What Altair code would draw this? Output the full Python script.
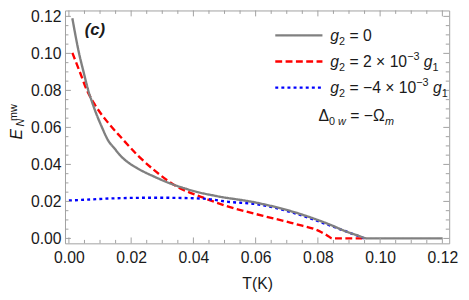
import altair as alt
import pandas as pd

# ---------------- data ----------------
series_names = ["g2 = 0", "g2 = 2e-3 g1", "g2 = -4e-3 g1"]

T_g0 = [0.0011, 0.0032, 0.0047, 0.0063, 0.0074, 0.0090, 0.0105, 0.0126, 0.0147,
        0.0168, 0.0195, 0.0221, 0.0274, 0.0337, 0.0379, 0.0410, 0.0474, 0.0600,
        0.0726, 0.0832, 0.0895, 0.0930, 0.0958, 0.1200]
E_g0 = [0.1190, 0.1005, 0.0900, 0.0795, 0.0739, 0.0665, 0.0605, 0.0530, 0.0485,
        0.0443, 0.0405, 0.0378, 0.0334, 0.0290, 0.0267, 0.0252, 0.0229, 0.0194,
        0.0141, 0.0079, 0.0035, 0.0015, 0.0000, 0.0000]

T_gp = [0.0011, 0.0035, 0.0058, 0.0084, 0.0126, 0.0168, 0.0221, 0.0274, 0.0337,
        0.0432, 0.0505, 0.0621, 0.0726, 0.0810, 0.0830, 0.0847, 0.0955]
E_gp = [0.1003, 0.0900, 0.0800, 0.0721, 0.0625, 0.0545, 0.0449, 0.0369, 0.0290,
        0.0220, 0.0176, 0.0123, 0.0079, 0.0035, 0.0016, 0.0000, 0.0000]

T_gm = [0.0000, 0.0074, 0.0150, 0.0274, 0.0350, 0.0432, 0.0516, 0.0600, 0.0726,
        0.0832, 0.0884, 0.0950]
E_gm = [0.0205, 0.0211, 0.0217, 0.0220, 0.0219, 0.0215, 0.0197, 0.0186, 0.0136,
        0.0074, 0.0042, 0.0000]

x_major = [0.00, 0.02, 0.04, 0.06, 0.08, 0.10, 0.12]
x_minor = [round(0.005 * i, 3) for i in range(1, 25) if i % 4 != 0]
y_major = [0.00, 0.02, 0.04, 0.06, 0.08, 0.10, 0.12]
y_minor = [round(0.005 * i, 3) for i in range(1, 25) if i % 4 != 0]

# legend label pieces: (text, is_small, italic, shift)  shift: 0 base, 1 sub, -1 sup
legend_labels = [
    [("g", 0, 1, 0), ("2", 1, 0, 1), (" = 0", 0, 0, 0)],
    [("g", 0, 1, 0), ("2", 1, 0, 1), (" = 2 × 10", 0, 0, 0), ("−3", 1, 0, -1),
     (" ", 0, 0, 0), ("g", 0, 1, 0), ("1", 1, 0, 1)],
    [("g", 0, 1, 0), ("2", 1, 0, 1), (" = −4 × 10", 0, 0, 0), ("−3", 1, 0, -1),
     (" ", 0, 0, 0), ("g", 0, 1, 0), ("1", 1, 0, 1)],
]
detuning_label = [("Δ", 0, 0, 0), ("0 ", 1, 0, 1), ("w", 1, 1, 1), (" = −Ω", 0, 0, 0), ("m", 1, 1, 1)]

line_colors = ["#808080", "#ff0000", "#0000ff"]
line_dashes = [[1, 0], [7, 3.5], [3, 3.2]]

# ---------------- layout ----------------
W, H = 391, 237
XDOM = [-0.00126, 0.1222]
YDOM = [-0.00266, 0.12319]
FRAME = "#a0a0a0"
FONT = "Liberation Sans"
TXT = "#1a1a1a"
F, S = 16, 11

rows = []
for name, T, E in zip(series_names, [T_g0, T_gp, T_gm], [E_g0, E_gp, E_gm]):
    for t, e in zip(T, E):
        rows.append({"series": name, "T": t, "E": e})
df = pd.DataFrame(rows)

xs = alt.Scale(domain=XDOM, nice=False, zero=False)
ys = alt.Scale(domain=YDOM, nice=False, zero=False)
x_axis = alt.Axis(values=x_major, format=".2f", ticks=False, domain=False, grid=False,
                  labelPadding=7, title="T(K)", titlePadding=10)
y_axis = alt.Axis(values=y_major, format=".2f", ticks=False, domain=False, grid=False,
                  labelPadding=4, title=None)
x_enc = alt.X("T:Q", scale=xs, axis=x_axis)
y_enc = alt.Y("E:Q", scale=ys, axis=y_axis)

color_enc = alt.Color("series:N", scale=alt.Scale(domain=series_names, range=line_colors), legend=None)
dash_enc = alt.StrokeDash("series:N", scale=alt.Scale(domain=series_names, range=line_dashes), legend=None)

base = alt.Chart(df).mark_line(strokeWidth=2.4, clip=True, interpolate="monotone").encode(
    x=x_enc, y=y_enc, color=color_enc, strokeDash=dash_enc)
lines_back = base.transform_filter(alt.datum.series != series_names[0])
lines_front = base.transform_filter(alt.datum.series == series_names[0])


def tick_layers(vals, axis, length):
    out = []
    if axis == "x":
        d = pd.DataFrame({"T": vals})
        out.append(alt.Chart(d).mark_rule(color=FRAME, strokeWidth=1).encode(
            x=x_enc, y=alt.value(H), y2=alt.value(H - length)))
        out.append(alt.Chart(d).mark_rule(color=FRAME, strokeWidth=1).encode(
            x=x_enc, y=alt.value(0), y2=alt.value(length)))
    else:
        d = pd.DataFrame({"E": vals})
        out.append(alt.Chart(d).mark_rule(color=FRAME, strokeWidth=1).encode(
            y=y_enc, x=alt.value(0), x2=alt.value(length)))
        out.append(alt.Chart(d).mark_rule(color=FRAME, strokeWidth=1).encode(
            y=y_enc, x=alt.value(W), x2=alt.value(W - length)))
    return out


ticks = (tick_layers(x_major, "x", 6) + tick_layers(x_minor, "x", 3.5)
         + tick_layers(y_major, "y", 6) + tick_layers(y_minor, "y", 3.5))


def txt(s, x, y, size=F, style="normal", weight="normal", angle=0, align="left"):
    return alt.Chart(pd.DataFrame({"t": [s]})).mark_text(
        font=FONT, fontSize=size, fontStyle=style, fontWeight=weight, angle=angle,
        align=align, baseline="alphabetic", color=TXT
    ).encode(text="t:N", x=alt.value(x), y=alt.value(y))


ADV = {"0": .556, "1": .556, "2": .556, "3": .556, "4": .556, " ": .278, "=": .584,
       "×": .584, "−": .584, "g": .556, "Δ": .668, "Ω": .768, "w": .722, "m": .833}


def adv(s, size):
    return sum(ADV.get(c, .556) for c in s) * size


def rich(pieces, x0, y0):
    out, x = [], x0
    for s, small, ital, shift in pieces:
        size = S if small else F
        dy = {0: 0, 1: 4, -1: -7}[shift]
        body = s.strip(" ")
        lead = s[: len(s) - len(s.lstrip(" "))]
        if body:
            out.append(txt(body, x + adv(lead, size), y0 + dy, size=size,
                           style="italic" if ital else "normal"))
        x += adv(s, size)
    return out


# legend (drawn by hand, Mathematica style)
legend = []
for i, (col, dash, lab) in enumerate(zip(line_colors, line_dashes, legend_labels)):
    yc = 25.3 + i * 26.6
    legend.append(alt.Chart(pd.DataFrame({"k": [i]})).mark_rule(
        color=col, strokeDash=dash, strokeWidth=2.4).encode(
        x=alt.value(214), x2=alt.value(262), y=alt.value(yc)))
    legend += rich(lab, 270, yc + 5.5)
legend += rich(detuning_label, 258, 112.5)

annotations = [
    txt("(c)", 20, 25, size=17, style="italic", weight="bold"),
    # y-axis title E_N^mw (rotated)
    txt("E", -44, 126, size=16, style="italic", angle=270, align="center"),
    txt("N", -42, 114, size=11, style="italic", angle=270, align="center"),
    txt("mw", -49, 104, size=11, angle=270, align="center"),
]

chart = alt.layer(lines_back, lines_front, *ticks, *legend, *annotations).properties(
    width=W, height=H, autosize="none",
    padding={"left": 58, "top": 0, "right": 12, "bottom": 47},
).configure_view(stroke=FRAME, strokeWidth=1).configure_axis(
    labelFont=FONT, labelFontSize=16, labelColor=TXT,
    titleFont=FONT, titleFontSize=16, titleFontWeight="normal", titleColor=TXT,
)

chart.save("out.html", embed_options={"renderer": "svg", "actions": False})
